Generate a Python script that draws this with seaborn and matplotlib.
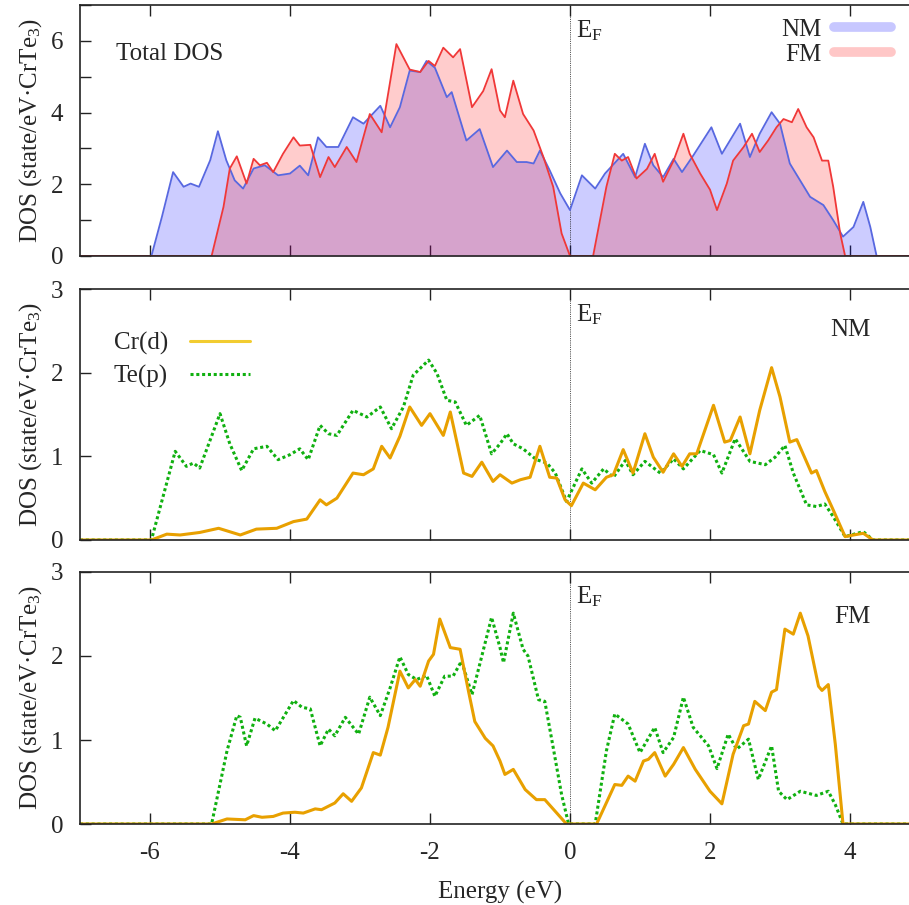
import numpy as np
import pandas as pd
import matplotlib
matplotlib.use("Agg")
import matplotlib.pyplot as plt
from matplotlib.lines import Line2D
from matplotlib.ticker import MultipleLocator
import seaborn as sns

# ---------------- data ----------------
nm_tot_e = [-7.0, -5.98, -5.83, -5.67, -5.52, -5.42, -5.30, -5.14, -5.03, -4.91, -4.79, -4.67, -4.52, -4.36,
            -4.17, -4.00, -3.86, -3.74, -3.60, -3.48, -3.31, -3.10, -2.95, -2.71, -2.57, -2.43, -2.29, -2.14,
            -2.05, -1.93, -1.76, -1.69, -1.48, -1.29, -1.10, -1.00, -0.90, -0.76, -0.62, -0.52, -0.43, -0.29,
            -0.14, 0.00, 0.17, 0.36, 0.50, 0.76, 0.93, 1.07, 1.19, 1.33, 1.48, 1.60, 1.76, 2.02, 2.17, 2.43,
            2.57, 2.71, 2.88, 3.00, 3.14, 3.43, 3.62, 3.76, 3.90, 4.05, 4.19, 4.29, 4.38, 5.0]
nm_tot_d = [0, 0, 1.09, 2.34, 1.93, 2.02, 1.93, 2.67, 3.48, 2.67, 2.11, 1.88, 2.44, 2.53,
            2.25, 2.30, 2.52, 2.25, 3.31, 3.04, 3.04, 3.87, 3.69, 4.19, 3.59, 4.15, 5.17, 5.13,
            5.44, 5.25, 4.43, 4.57, 3.22, 3.54, 2.48, 2.71, 2.94, 2.62, 2.62, 2.58, 2.94, 2.39,
            1.75, 1.28, 2.25, 1.88, 2.30, 2.85, 2.20, 3.13, 2.53, 2.20, 2.71, 2.34, 2.80, 3.59, 2.85, 3.69,
            2.76, 3.41, 4.01, 3.69, 2.58, 1.65, 1.42, 1.00, 0.54, 0.81, 1.51, 0.81, 0, 0]

fm_tot_e = [-7.0, -5.12, -4.95, -4.86, -4.76, -4.62, -4.52, -4.43, -4.33, -4.24, -4.10, -3.95, -3.86, -3.71,
            -3.57, -3.45, -3.36, -3.19, -3.05, -2.86, -2.69, -2.48, -2.29, -2.14, -2.02, -1.93, -1.81, -1.67,
            -1.57, -1.40, -1.24, -1.12, -1.00, -0.93, -0.81, -0.67, -0.52, -0.38, -0.24, -0.12, 0.00, 0.33,
            0.52, 0.64, 0.74, 0.83, 0.95, 1.10, 1.21, 1.33, 1.48, 1.62, 1.71, 1.86, 2.00, 2.10, 2.24, 2.33,
            2.48, 2.60, 2.71, 2.83, 2.95, 3.05, 3.17, 3.26, 3.38, 3.48, 3.60, 3.69, 3.76, 3.86, 3.93, 5.0]
fm_tot_d = [0, 0, 1.37, 2.44, 2.78, 2.02, 2.71, 2.53, 2.60, 2.34, 2.85, 3.31, 3.08, 3.10,
            2.20, 2.76, 2.48, 3.04, 2.62, 3.96, 3.45, 5.91, 5.20, 5.13, 5.44, 5.30, 5.81, 5.54,
            5.77, 4.15, 4.60, 5.21, 4.06, 3.87, 4.89, 3.96, 3.50, 2.76, 1.93, 0.63, 0, 0,
            1.93, 2.85, 2.66, 2.76, 2.16, 2.43, 2.85, 2.07, 2.66, 3.41, 2.85, 2.30, 1.85, 1.28, 2.02, 2.66,
            3.04, 3.41, 2.90, 3.22, 3.59, 3.82, 3.73, 4.10, 3.59, 3.31, 2.66, 2.66, 1.93, 0.63, 0, 0]

nm_cr_e = [-7.0, -5.98, -5.76, -5.57, -5.29, -5.02, -4.71, -4.48, -4.19, -3.95, -3.76, -3.57, -3.48, -3.33,
           -3.10, -2.95, -2.81, -2.69, -2.57, -2.43, -2.29, -2.12, -2.00, -1.81, -1.71, -1.52, -1.40, -1.26,
           -1.10, -1.00, -0.83, -0.71, -0.57, -0.43, -0.29, -0.19, -0.07, 0.02, 0.19, 0.36, 0.52, 0.62,
           0.76, 0.90, 1.07, 1.19, 1.33, 1.48, 1.60, 1.71, 1.81, 2.05, 2.21, 2.29, 2.43, 2.57, 2.71, 2.88,
           3.00, 3.14, 3.24, 3.45, 3.52, 3.64, 3.76, 3.93, 4.05, 4.19, 4.33, 5.0]
nm_cr_d = [0, 0, 0.07, 0.06, 0.09, 0.14, 0.06, 0.13, 0.14, 0.22, 0.25, 0.48, 0.42, 0.50,
           0.80, 0.78, 0.85, 1.12, 0.98, 1.24, 1.59, 1.37, 1.51, 1.25, 1.53, 0.80, 0.76, 0.93,
           0.70, 0.78, 0.68, 0.72, 0.75, 1.12, 0.75, 0.74, 0.48, 0.41, 0.68, 0.60, 0.75, 0.78,
           1.08, 0.80, 1.27, 0.99, 0.81, 1.03, 0.88, 1.03, 1.03, 1.61, 1.17, 1.19, 1.47, 1.03, 1.55, 2.06,
           1.71, 1.17, 1.20, 0.80, 0.83, 0.58, 0.36, 0.04, 0.06, 0.08, 0, 0]

nm_te_e = [-7.0, -5.98, -5.64, -5.48, -5.38, -5.29, -5.00, -4.86, -4.69, -4.52, -4.33, -4.17, -4.00, -3.86,
           -3.74, -3.57, -3.45, -3.33, -3.10, -2.90, -2.71, -2.55, -2.38, -2.24, -2.02, -1.90, -1.76, -1.64,
           -1.48, -1.29, -1.12, -1.00, -0.90, -0.81, -0.67, -0.48, -0.33, -0.21, -0.05, 0.17, 0.31, 0.48,
           0.62, 0.79, 0.90, 1.07, 1.29, 1.48, 1.62, 1.86, 2.05, 2.17, 2.36, 2.57, 2.79, 2.93, 3.07, 3.19,
           3.38, 3.52, 3.64, 3.76, 3.93, 4.19, 4.33, 5.0]
nm_te_d = [0, 0, 1.06, 0.88, 0.92, 0.86, 1.51, 1.15, 0.83, 1.09, 1.12, 0.96, 1.02, 1.09,
           0.96, 1.37, 1.27, 1.25, 1.55, 1.47, 1.59, 1.33, 1.59, 1.97, 2.15, 1.99, 1.67, 1.65,
           1.37, 1.49, 1.03, 1.15, 1.27, 1.15, 1.09, 0.96, 0.92, 0.80, 0.46, 0.85, 0.68, 0.85,
           0.75, 0.95, 0.78, 0.94, 0.80, 0.97, 0.85, 1.07, 1.02, 0.80, 1.21, 0.94, 0.90, 0.99, 1.13, 0.80,
           0.42, 0.40, 0.43, 0.28, 0.04, 0.10, 0, 0]

fm_cr_e = [-7.0, -5.12, -4.90, -4.64, -4.52, -4.40, -4.24, -4.10, -3.93, -3.81, -3.64, -3.55, -3.36, -3.24,
           -3.12, -2.98, -2.81, -2.71, -2.60, -2.43, -2.31, -2.21, -2.14, -2.02, -1.95, -1.86, -1.71, -1.57,
           -1.45, -1.36, -1.21, -1.10, -1.00, -0.93, -0.81, -0.64, -0.48, -0.36, -0.21, -0.05, 0.38, 0.64,
           0.74, 0.83, 0.93, 1.05, 1.12, 1.21, 1.36, 1.48, 1.62, 1.79, 2.00, 2.17, 2.33, 2.48, 2.55, 2.64,
           2.79, 2.88, 2.95, 3.07, 3.19, 3.29, 3.40, 3.55, 3.60, 3.69, 3.79, 3.90, 5.0]
fm_cr_d = [0, 0, 0.06, 0.05, 0.10, 0.08, 0.09, 0.13, 0.14, 0.13, 0.18, 0.17, 0.25, 0.36,
           0.27, 0.43, 0.85, 0.82, 1.15, 1.82, 1.62, 1.72, 1.64, 1.94, 2.02, 2.44, 2.10, 2.08,
           1.58, 1.22, 1.02, 0.93, 0.75, 0.59, 0.65, 0.41, 0.29, 0.29, 0.15, 0, 0, 0.47,
           0.46, 0.57, 0.51, 0.75, 0.77, 0.85, 0.57, 0.71, 0.91, 0.65, 0.39, 0.24, 0.83, 1.17, 1.19, 1.46,
           1.35, 1.57, 1.60, 2.32, 2.26, 2.51, 2.24, 1.64, 1.59, 1.66, 0.95, 0, 0]

fm_te_e = [-7.0, -5.12, -4.90, -4.76, -4.71, -4.62, -4.50, -4.33, -4.21, -3.95, -3.83, -3.71, -3.57, -3.45,
           -3.36, -3.21, -3.02, -2.86, -2.71, -2.57, -2.43, -2.31, -2.19, -2.05, -1.93, -1.79, -1.67, -1.55,
           -1.40, -1.29, -1.12, -1.00, -0.95, -0.81, -0.67, -0.60, -0.45, -0.36, -0.24, -0.12, -0.02, 0.36,
           0.52, 0.64, 0.83, 1.00, 1.21, 1.33, 1.48, 1.62, 1.76, 1.98, 2.10, 2.26, 2.38, 2.55, 2.69, 2.88,
           2.98, 3.10, 3.29, 3.52, 3.69, 3.79, 3.90, 5.0]
fm_te_d = [0, 0, 0.87, 1.29, 1.27, 0.93, 1.26, 1.19, 1.11, 1.47, 1.39, 1.37, 0.93, 1.13,
           1.05, 1.27, 1.07, 1.51, 1.29, 1.62, 1.99, 1.78, 1.72, 1.77, 1.52, 1.76, 1.76, 1.94,
           1.54, 1.90, 2.46, 2.10, 1.92, 2.51, 2.08, 2.00, 1.48, 1.46, 0.91, 0.35, 0, 0,
           0.87, 1.31, 1.19, 0.85, 1.15, 0.85, 1.03, 1.51, 1.15, 0.93, 0.66, 1.07, 0.89, 1.01, 0.53, 0.93,
           0.39, 0.29, 0.39, 0.34, 0.39, 0.23, 0, 0]

x_ticks = [-6, -4, -2, 0, 2, 4]
top_yticks = [0, 2, 4, 6]
pdos_yticks = [0, 1, 2, 3]
ylabel = "DOS (state/eV\u00b7CrTe$_3$)"
xlabel = "Energy (eV)"

# ---------------- style ----------------
sns.set_theme(style="ticks")
plt.rcParams["font.family"] = ["Liberation Serif", "DejaVu Serif"]
plt.rcParams["mathtext.fontset"] = "custom"
plt.rcParams["mathtext.rm"] = "Liberation Serif"
plt.rcParams["mathtext.it"] = "Liberation Serif:italic"
plt.rcParams["axes.unicode_minus"] = False
FS = 18

W, H = 909, 905
fig = plt.figure(figsize=(W / 100, H / 100), dpi=100)

def px_axes(top_px, bot_px):
    left = 80 / W
    width = 840 / W
    bottom = (H - bot_px) / H
    height = (bot_px - top_px) / H
    return fig.add_axes([left, bottom, width, height])

ax1 = px_axes(5, 256)
ax2 = px_axes(289, 540)
ax3 = px_axes(572, 824)

BLUE_LINE = "#5868e0"
RED_LINE = "#f03838"
ORANGE = "#e8a000"
GREEN = "#10b010"

# ---- top panel: total DOS
ax1.fill_between(nm_tot_e, nm_tot_d, 0, color="#0000ff", alpha=0.2, linewidth=0)
sns.lineplot(x=nm_tot_e, y=nm_tot_d, ax=ax1, color=BLUE_LINE, linewidth=1.3, sort=False, estimator=None)
ax1.fill_between(fm_tot_e, fm_tot_d, 0, color="#ff0000", alpha=0.2, linewidth=0)
sns.lineplot(x=fm_tot_e, y=fm_tot_d, ax=ax1, color=RED_LINE, linewidth=1.3, sort=False, estimator=None)
ax1.set_ylim(0, 7)
ax1.set_yticks(top_yticks)
ax1.yaxis.set_minor_locator(MultipleLocator(1))
ax1.text(-6.48, 5.64, "Total DOS", fontsize=FS, ha="left", va="center")
ax1.text(0.08, 6.28, "E$_\\mathrm{F}$", fontsize=FS, ha="left", va="center")
h1 = [Line2D([], [], color="#0000ff", alpha=0.22, lw=7),
      Line2D([], [], color="#ff0000", alpha=0.22, lw=7)]
ax1.legend(h1, ["NM", "FM"], loc="upper right", bbox_to_anchor=(0.966, 0.948), frameon=False,
           markerfirst=False, fontsize=FS, handlelength=2.3, handletextpad=0.5,
           labelspacing=0.1, borderpad=0, borderaxespad=0)

# ---- middle panel: NM projected DOS
sns.lineplot(x=nm_te_e, y=nm_te_d, ax=ax2, color=GREEN, linewidth=2.2, linestyle=(0, (1, 0.9)),
             sort=False, estimator=None)
sns.lineplot(x=nm_cr_e, y=nm_cr_d, ax=ax2, color=ORANGE, linewidth=2.2, sort=False, estimator=None)
ax2.text(0.08, 2.69, "E$_\\mathrm{F}$", fontsize=FS, ha="left", va="center")
ax2.text(4.01, 2.51, "NM", fontsize=FS, ha="center", va="center")
h2 = [Line2D([], [], color="#f2cc30", lw=2.2),
      Line2D([], [], color=GREEN, lw=2.2, linestyle=(0, (1, 0.9)))]
ax2.legend(h2, ["Cr(d)", "Te(p)"], loc="upper left", bbox_to_anchor=(0.04, 0.83), frameon=False,
           markerfirst=False, fontsize=FS, handlelength=2.4, handletextpad=0.9,
           labelspacing=0.4, borderpad=0, borderaxespad=0)

# ---- bottom panel: FM projected DOS
sns.lineplot(x=fm_te_e, y=fm_te_d, ax=ax3, color=GREEN, linewidth=2.2, linestyle=(0, (1, 0.9)),
             sort=False, estimator=None)
sns.lineplot(x=fm_cr_e, y=fm_cr_d, ax=ax3, color=ORANGE, linewidth=2.2, sort=False, estimator=None)
ax3.text(0.08, 2.71, "E$_\\mathrm{F}$", fontsize=FS, ha="left", va="center")
ax3.text(4.03, 2.47, "FM", fontsize=FS, ha="center", va="center")
ax3.set_xlabel(xlabel, fontsize=FS, labelpad=12)

for ax in (ax2, ax3):
    ax.set_ylim(0, 3)
    ax.set_yticks(pdos_yticks)

for ax in (ax1, ax2, ax3):
    ax.set_xlim(-7, 5)
    ax.set_xticks(x_ticks)
    ax.axvline(0, color="#202020", linewidth=0.6, linestyle=(0, (1, 1.2)), zorder=1)
    ax.set_ylabel(ylabel, fontsize=FS, labelpad=5)
    ax.tick_params(axis="both", which="both", direction="in", length=8, width=1.0,
                   top=True, right=True, labelsize=FS, color="#222222")
    ax.tick_params(axis="y", pad=12)
    ax.tick_params(axis="x", pad=13)
    for s in ax.spines.values():
        s.set_linewidth(1.2)
        s.set_color("#222222")
    if ax is not ax3:
        ax.tick_params(axis="x", labelbottom=False)
    ax.grid(False)

fig.savefig("out.png", dpi=100)
